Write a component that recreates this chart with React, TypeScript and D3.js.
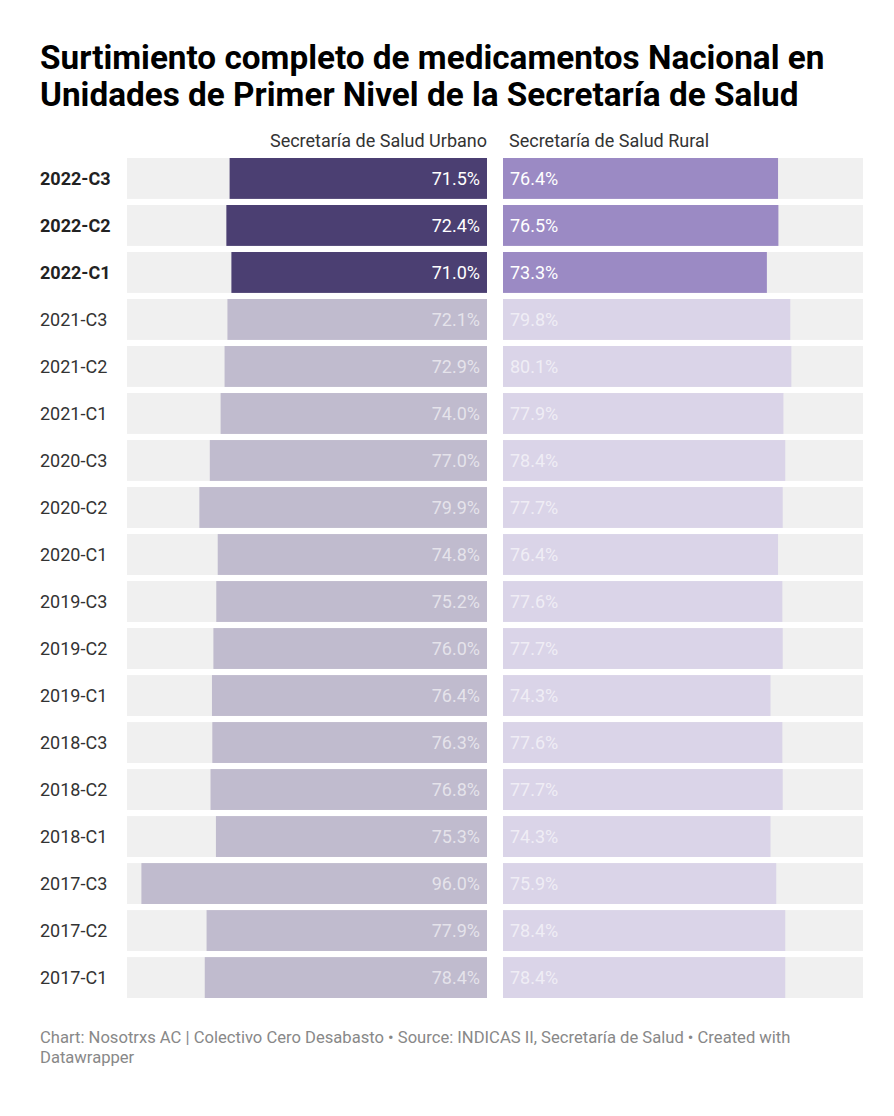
import { useMemo } from "react";
import * as d3 from "d3";

// ---------------------------------------------------------------------------
// Data (top → bottom)
// ---------------------------------------------------------------------------

const PERIODS = [
  "2022-C3", "2022-C2", "2022-C1",
  "2021-C3", "2021-C2", "2021-C1",
  "2020-C3", "2020-C2", "2020-C1",
  "2019-C3", "2019-C2", "2019-C1",
  "2018-C3", "2018-C2", "2018-C1",
  "2017-C3", "2017-C2", "2017-C1",
];

const URBANO = [
  71.5, 72.4, 71.0,
  72.1, 72.9, 74.0,
  77.0, 79.9, 74.8,
  75.2, 76.0, 76.4,
  76.3, 76.8, 75.3,
  96.0, 77.9, 78.4,
];

const RURAL = [
  76.4, 76.5, 73.3,
  79.8, 80.1, 77.9,
  78.4, 77.7, 76.4,
  77.6, 77.7, 74.3,
  77.6, 77.7, 74.3,
  75.9, 78.4, 78.4,
];

const HIGHLIGHT = ["2022-C3", "2022-C2", "2022-C1"];

const TITLE = [
  "Surtimiento completo de medicamentos Nacional en",
  "Unidades de Primer Nivel de la Secretaría de Salud",
];
const HEADERS = ["Secretaría de Salud Urbano", "Secretaría de Salud Rural"];
const FOOTER = [
  "Chart: Nosotrxs AC | Colectivo Cero Desabasto • Source: INDICAS II, Secretaría de Salud • Created with",
  "Datawrapper",
];

// ---------------------------------------------------------------------------
// Style
// ---------------------------------------------------------------------------

const W = 894;
const H = 1116;
const FONT = "Roboto, 'Noto Sans', sans-serif";

const COL = {
  bg: "#f0f0f0",
  urbano: "#4b3f72",
  urbanoFade: "#c0bbce",
  rural: "#9b8ac4",
  ruralFade: "#dad4e8",
};

const fmt = (v: number) => `${v.toFixed(1)}%`;

export default function App() {
  const panelW = 360;
  const leftX0 = 127;
  const rightX0 = 503;

  const y = useMemo(
    () =>
      d3.scaleBand<string>().domain(PERIODS).range([158, 998]).paddingInner(0.13).paddingOuter(0),
    []
  );
  const x = useMemo(() => d3.scaleLinear().domain([0, 100]).range([0, panelW]), []);

  const bw = y.bandwidth();

  return (
    <svg
      width={W}
      height={H}
      style={{ position: "absolute", left: 0, top: 0, background: "#fff", display: "block" }}
      fontFamily={FONT}
    >
      {/* ---- Title ---- */}
      {TITLE.map((t, i) => (
        <text key={t} x={40} y={69 + i * 37} fontSize={33.3} fontWeight={700} fill="#000">
          {t}
        </text>
      ))}

      {/* ---- Column headers ---- */}
      <text x={leftX0 + panelW} y={147} fontSize={18} fill="#333" textAnchor="end">
        {HEADERS[0]}
      </text>
      <text x={rightX0 + 6} y={147} fontSize={18} fill="#333">
        {HEADERS[1]}
      </text>

      {/* ---- Rows ---- */}
      {PERIODS.map((p, i) => {
        const top = y(p)!;
        const cy = top + bw / 2;
        const hi = HIGHLIGHT.includes(p);
        const uW = x(URBANO[i]);
        const rW = x(RURAL[i]);
        const txtFill = hi ? "#fff" : "rgba(255,255,255,0.6)";
        return (
          <g key={p}>
            <text
              x={40}
              y={cy}
              dy="0.35em"
              fontSize={18}
              fontWeight={hi ? 700 : 400}
              fill={hi ? "#222" : "#333"}
            >
              {p}
            </text>

            {/* left panel: Urbano, bars grow leftwards */}
            <rect x={leftX0} y={top} width={panelW} height={bw} fill={COL.bg} />
            <rect
              x={leftX0 + panelW - uW}
              y={top}
              width={uW}
              height={bw}
              fill={hi ? COL.urbano : COL.urbanoFade}
            />
            <text
              x={leftX0 + panelW - 7}
              y={cy}
              dy="0.35em"
              fontSize={18}
              textAnchor="end"
              fill={txtFill}
            >
              {fmt(URBANO[i])}
            </text>

            {/* right panel: Rural, bars grow rightwards */}
            <rect x={rightX0} y={top} width={panelW} height={bw} fill={COL.bg} />
            <rect
              x={rightX0}
              y={top}
              width={rW}
              height={bw}
              fill={hi ? COL.rural : COL.ruralFade}
            />
            <text x={rightX0 + 7} y={cy} dy="0.35em" fontSize={18} fill={txtFill}>
              {fmt(RURAL[i])}
            </text>
          </g>
        );
      })}

      {/* ---- Footer ---- */}
      {FOOTER.map((t, i) => (
        <text key={t} x={40} y={1043 + i * 20} fontSize={16.6} fill="#888">
          {t}
        </text>
      ))}
    </svg>
  );
}
